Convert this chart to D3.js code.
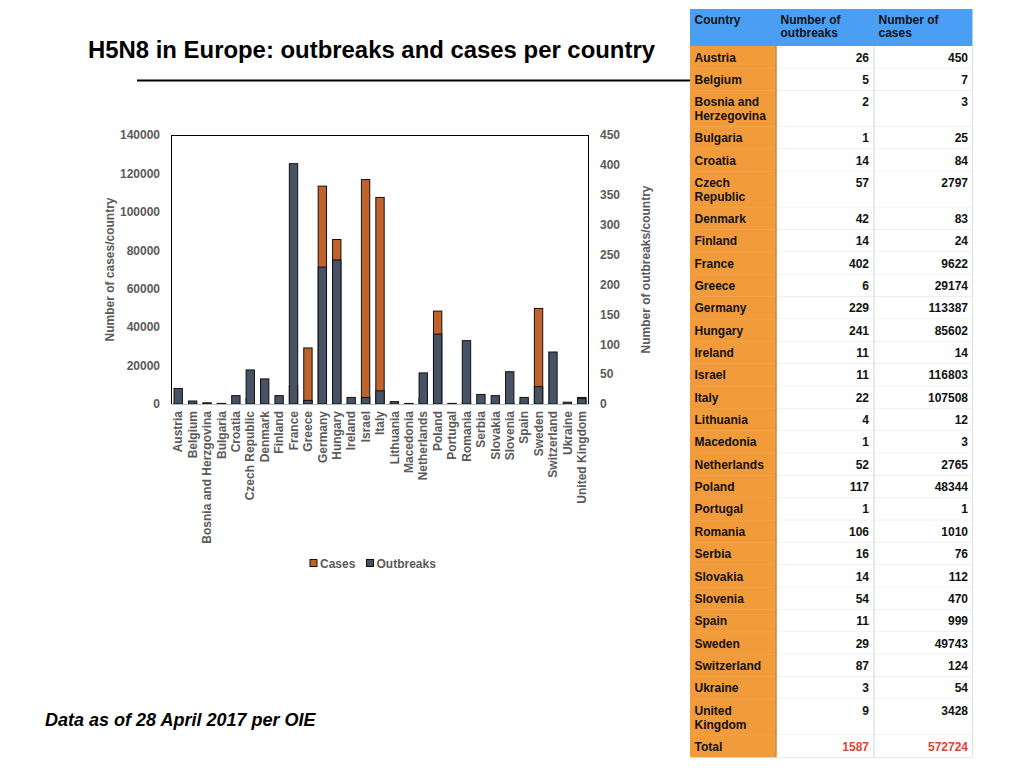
<!DOCTYPE html>
<html>
<head>
<meta charset="utf-8">
<script src="https://cdn.jsdelivr.net/npm/d3@7/dist/d3.min.js"></script>
<style>
  html, body { margin: 0; padding: 0; background: #ffffff; }
  svg { display: block; font-family: "Liberation Sans", Arial, Helvetica, sans-serif; }
</style>
</head>
<body>
<svg id="chart" width="1024" height="768"></svg>
<script>
// ---- Data ----
const countries = ["Austria","Belgium","Bosnia and Herzgovina","Bulgaria","Croatia","Czech Republic","Denmark","Finland","France","Greece","Germany","Hungary","Ireland","Israel","Italy","Lithuania","Macedonia","Netherlands","Poland","Portugal","Romania","Serbia","Slovakia","Slovenia","Spain","Sweden","Switzerland","Ukraine","United Kingdom"];
const tableCountries = [["Austria"],["Belgium"],["Bosnia and","Herzegovina"],["Bulgaria"],["Croatia"],["Czech","Republic"],["Denmark"],["Finland"],["France"],["Greece"],["Germany"],["Hungary"],["Ireland"],["Israel"],["Italy"],["Lithuania"],["Macedonia"],["Netherlands"],["Poland"],["Portugal"],["Romania"],["Serbia"],["Slovakia"],["Slovenia"],["Spain"],["Sweden"],["Switzerland"],["Ukraine"],["United","Kingdom"]];
const outbreaks = [26,5,2,1,14,57,42,14,402,6,229,241,11,11,22,4,1,52,117,1,106,16,14,54,11,29,87,3,9];
const cases = [450,7,3,25,84,2797,83,24,9622,29174,113387,85602,14,116803,107508,12,3,2765,48344,1,1010,76,112,470,999,49743,124,54,3428];
const totalOutbreaks = 1587;
const totalCases = 572724;
const casesTicks = [0,20000,40000,60000,80000,100000,120000,140000];
const outbreakTicks = [0,50,100,150,200,250,300,350,400,450];
const tableHeader = [["Country"],["Number of","outbreaks"],["Number of","cases"]];
const seriesNames = ["Cases","Outbreaks"];

const C_CASES = "#c0622b";
const C_OUT = "#475264";
const AXIS_TXT = "#5a5a5a";

const svg = d3.select("#chart");

// ---- Title ----
svg.append("text").attr("x", 88).attr("y", 58)
  .attr("font-size", 23).attr("font-weight", "bold").attr("fill", "#000")
  .attr("textLength", 567).attr("lengthAdjust", "spacingAndGlyphs")
  .text("H5N8 in Europe: outbreaks and cases per country");
svg.append("line").attr("x1", 137).attr("x2", 690).attr("y1", 80.5).attr("y2", 80.5)
  .attr("stroke", "#000").attr("stroke-width", 2);

// ---- Chart ----
const L = 171, R = 589, T = 135, B = 404;
const x = d3.scaleBand().domain(countries).range([L, R]).paddingInner(0.42).paddingOuter(0.21);
const yC = d3.scaleLinear().domain([0, 140000]).range([B, T]);
const yO = d3.scaleLinear().domain([0, 450]).range([B, T]);

const g = svg.append("g");

// cases bars (left axis)
g.selectAll("rect.cases").data(countries).enter().append("rect")
  .attr("class", "cases")
  .attr("x", d => x(d))
  .attr("width", x.bandwidth())
  .attr("y", (d, i) => yC(cases[i]))
  .attr("height", (d, i) => B - yC(cases[i]))
  .attr("fill", C_CASES).attr("stroke", "#111").attr("stroke-width", 1);

// outbreaks bars (right axis), drawn in front
g.selectAll("rect.out").data(countries).enter().append("rect")
  .attr("class", "out")
  .attr("x", d => x(d))
  .attr("width", x.bandwidth())
  .attr("y", (d, i) => yO(outbreaks[i]))
  .attr("height", (d, i) => B - yO(outbreaks[i]))
  .attr("fill", C_OUT).attr("stroke", "#111").attr("stroke-width", 1);

// plot frame
svg.append("line").attr("x1", L).attr("x2", R).attr("y1", T + 0.5).attr("y2", T + 0.5).attr("stroke", "#000");
svg.append("line").attr("x1", L + 0.5).attr("x2", L + 0.5).attr("y1", T).attr("y2", B).attr("stroke", "#000");
svg.append("line").attr("x1", R - 0.5).attr("x2", R - 0.5).attr("y1", T).attr("y2", B).attr("stroke", "#000");
svg.append("line").attr("x1", L).attr("x2", R).attr("y1", B + 0.5).attr("y2", B + 0.5).attr("stroke", "#bbbbbb");

// left axis
const axL = d3.axisLeft(yC).tickValues(casesTicks).tickSize(0).tickPadding(11).tickFormat(d3.format("d"));
const gL = svg.append("g").attr("transform", `translate(${L},0)`).call(axL);
gL.select(".domain").remove();
gL.selectAll("text").attr("font-size", 12).attr("font-weight", "bold").attr("fill", AXIS_TXT)
  .attr("font-family", "Liberation Sans, Arial, sans-serif");

// right axis
const axR = d3.axisRight(yO).tickValues(outbreakTicks).tickSize(0).tickPadding(11);
const gR = svg.append("g").attr("transform", `translate(${R},0)`).call(axR);
gR.select(".domain").remove();
gR.selectAll("text").attr("font-size", 12).attr("font-weight", "bold").attr("fill", AXIS_TXT)
  .attr("font-family", "Liberation Sans, Arial, sans-serif");

// bottom axis labels
const axB = d3.axisBottom(x).tickSize(0).tickPadding(0);
const gB = svg.append("g").attr("transform", `translate(0,${B})`).call(axB);
gB.select(".domain").remove();
gB.selectAll("text")
  .attr("font-size", 12).attr("font-weight", "bold").attr("fill", AXIS_TXT)
  .attr("font-family", "Liberation Sans, Arial, sans-serif")
  .attr("text-anchor", "end")
  .attr("transform", "rotate(-90)")
  .attr("x", -7).attr("y", 0).attr("dy", "0.35em");

// axis titles
svg.append("text").attr("transform", `translate(114,${(T + B) / 2}) rotate(-90)`)
  .attr("text-anchor", "middle").attr("font-size", 12).attr("font-weight", "bold").attr("fill", AXIS_TXT)
  .text("Number of cases/country");
svg.append("text").attr("transform", `translate(650,${(T + B) / 2}) rotate(-90)`)
  .attr("text-anchor", "middle").attr("font-size", 12).attr("font-weight", "bold").attr("fill", AXIS_TXT)
  .text("Number of outbreaks/country");

// legend
const legX = [310, 366.5];
const legColors = [C_CASES, C_OUT];
seriesNames.forEach((s, i) => {
  svg.append("rect").attr("x", legX[i]).attr("y", 559.5).attr("width", 7).attr("height", 7)
    .attr("fill", legColors[i]).attr("stroke", "#111").attr("stroke-width", 1);
  svg.append("text").attr("x", legX[i] + 10).attr("y", 567.5)
    .attr("font-size", 12).attr("font-weight", "bold").attr("fill", AXIS_TXT).text(s);
});

// footer
svg.append("text").attr("x", 45).attr("y", 726)
  .attr("font-size", 18).attr("font-weight", "bold").attr("font-style", "italic").attr("fill", "#000")
  .text("Data as of 28 April 2017 per OIE");

// ---- Table ----
const tX = [690, 776, 874, 972.5];
const headTop = 9, headBot = 46;
const singleH = 22.35, doubleH = 36;
const tg = svg.append("g").attr("font-size", 12).attr("font-weight", "bold");

// header
tg.append("rect").attr("x", tX[0]).attr("y", headTop).attr("width", tX[3] - tX[0]).attr("height", headBot - headTop)
  .attr("fill", "#4a9ff4");
tableHeader.forEach((lines, c) => {
  lines.forEach((ln, k) => {
    tg.append("text").attr("x", tX[c] + 4.5).attr("y", headTop + 15 + k * 13).attr("fill", "#111").text(ln);
  });
});

// rows
const rows = tableCountries.map((lines, i) => ({lines, o: outbreaks[i], c: cases[i], total: false}));
rows.push({lines: ["Total"], o: totalOutbreaks, c: totalCases, total: true});
let yy = headBot;
rows.forEach(r => {
  const h = r.lines.length > 1 ? doubleH : singleH;
  tg.append("rect").attr("x", tX[0]).attr("y", yy).attr("width", tX[1] - tX[0]).attr("height", h).attr("fill", "#f29b3a");
  tg.append("rect").attr("x", tX[1]).attr("y", yy).attr("width", tX[3] - tX[1]).attr("height", h).attr("fill", "#ffffff");
  r.lines.forEach((ln, k) => {
    tg.append("text").attr("x", tX[0] + 4.5).attr("y", yy + 15.5 + k * 14).attr("fill", "#111").text(ln);
  });
  const col = r.total ? "#e2452f" : "#111";
  tg.append("text").attr("x", tX[2] - 5).attr("y", yy + 15.5).attr("text-anchor", "end")
    .attr("fill", col).text(r.o);
  tg.append("text").attr("x", tX[3] - 4.5).attr("y", yy + 15.5).attr("text-anchor", "end")
    .attr("fill", col).text(r.c);
  yy += h;
  if (!r.total) {
    tg.append("line").attr("x1", tX[0]).attr("x2", tX[1]).attr("y1", yy).attr("y2", yy).attr("stroke", "#f0a650").attr("stroke-width", 1);
    tg.append("line").attr("x1", tX[1]).attr("x2", tX[3]).attr("y1", yy).attr("y2", yy).attr("stroke", "#e2e2e2").attr("stroke-width", 1);
  }
});
// vertical separators
tg.append("line").attr("x1", tX[1]).attr("x2", tX[1]).attr("y1", headBot).attr("y2", yy).attr("stroke", "#c98a43").attr("stroke-width", 1.5);
tg.append("line").attr("x1", tX[2]).attr("x2", tX[2]).attr("y1", headBot).attr("y2", yy).attr("stroke", "#e2e2e2").attr("stroke-width", 1.5);
tg.append("line").attr("x1", tX[3]).attr("x2", tX[3]).attr("y1", headBot).attr("y2", yy).attr("stroke", "#e2e2e2").attr("stroke-width", 1);
tg.append("line").attr("x1", tX[1]).attr("x2", tX[3]).attr("y1", yy).attr("y2", yy).attr("stroke", "#e8e8e8").attr("stroke-width", 1);
</script>
</body>
</html>
